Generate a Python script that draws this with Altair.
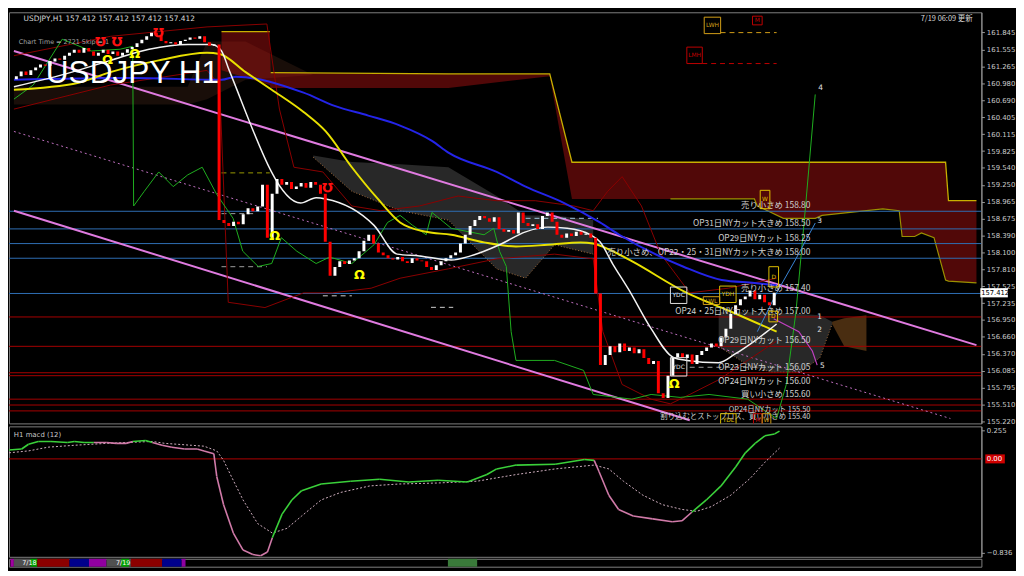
import altair as alt
import pandas as pd

# ---------------- data ----------------
# hourly closes, one per bar (bar index 0..157)
closes = [
    161.10, 161.18, 161.12, 161.20, 161.25, 161.30, 161.28, 161.35, 161.40, 161.38, 161.45, 161.50,
    161.55, 161.50, 161.58, 161.52, 161.45, 161.50, 161.55, 161.48,
    161.52, 161.45, 161.50, 161.56, 161.60,
    161.66, 161.72, 161.78, 161.84, 161.80,
    161.70, 161.66, 161.68, 161.64, 161.70,
    161.72, 161.76, 161.74, 161.78,
    161.68, 161.62, 161.64,
    158.65,
    158.60, 158.55, 158.62, 158.58,
    158.75, 158.85, 158.80, 158.88,
    159.25, 158.35, 159.10, 159.35,
    159.25, 159.30, 159.18, 159.22, 159.28, 159.20, 159.30,
    159.25, 159.10, 158.28, 157.70,
    157.85, 157.95, 157.90, 157.96,
    158.00, 158.12, 158.30, 158.40,
    158.25, 158.10, 158.05, 158.00, 157.98, 158.02, 157.95, 157.92, 158.00, 157.96,
    157.95, 157.85, 157.80, 157.88,
    157.95, 158.00, 158.05, 158.10,
    158.25, 158.40, 158.55,
    158.65, 158.72, 158.68, 158.62, 158.70,
    158.50, 158.45, 158.48, 158.42,
    158.78, 158.60, 158.55, 158.58, 158.50,
    158.72, 158.78, 158.62,
    158.40, 158.35, 158.42, 158.38, 158.45, 158.40, 158.42, 158.35,
    157.40, 156.18,
    156.35, 156.50, 156.40, 156.55, 156.42, 156.48, 156.38, 156.45,
    156.30, 156.20, 156.25, 155.70, 155.62, 156.00,
    156.32, 156.38, 156.30, 156.36, 156.20, 156.35,
    156.42, 156.48, 156.55, 156.50, 156.65, 156.80, 157.05, 157.20,
    157.30, 157.35, 157.45, 157.30, 157.38, 157.25, 157.20, 157.412,
]
first_open = 161.05

white_bar = [0, 12, 20, 28, 36, 41, 43, 44.6, 59.4, 62.6, 64.6, 74.6, 79.4, 84, 90.6, 94.6, 100.6, 106,
             110.6, 114.6, 119.4, 121.4, 124, 127.4, 132, 136.6, 139.4, 146, 149.4, 153.4, 156, 158]
white_price = [160.92, 161.17, 161.37, 161.56, 161.64, 161.64, 161.53, 161.20, 158.94, 159.03, 159.01,
               158.56, 158.07, 158.04, 157.97, 158.04, 158.23, 158.45, 158.53, 158.51, 158.40, 158.28,
               157.91, 157.46, 156.80, 156.31, 156.26, 156.22, 156.37, 156.59, 156.75, 156.88]

yellow_bar = [0, 13.4, 20, 30, 40, 42.6, 48, 53.4, 60, 64.6, 70, 75.4, 80, 85.4, 90.6, 97.4, 104, 110.6,
              117.4, 120, 124, 128, 139.4, 148, 158]
yellow_price = [160.87, 160.99, 161.17, 161.37, 161.50, 161.48, 161.17, 160.87, 160.49, 160.16, 159.55,
                159.01, 158.61, 158.45, 158.40, 158.27, 158.20, 158.23, 158.27, 158.25, 158.12, 157.95,
                157.41, 157.11, 156.75]

blue_bar = [0, 24, 43, 46, 60, 66.6, 73.4, 80, 86.6, 90, 100, 106, 114, 121.4, 125.4, 138.6, 146.6, 153.4, 158]
blue_price = [161.04, 161.07, 161.04, 161.09, 160.82, 160.59, 160.43, 160.26, 160.00, 159.80, 159.47,
              159.22, 158.94, 158.61, 158.40, 157.86, 157.63, 157.58, 157.54]

bb_low_bar = [0, 20, 40, 42.6, 44.4, 52, 60, 66, 74, 80, 90, 100, 112, 120, 122, 126, 132, 136, 140, 146, 152, 158]
bb_low_price = [160.54, 160.95, 161.20, 160.95, 157.25, 157.16, 157.41, 157.41, 157.49, 157.66, 157.82,
                157.99, 158.07, 157.99, 156.75, 155.85, 155.60, 155.52, 155.68, 155.93, 156.26, 156.59]
bb_up_bar = [0, 20, 40, 52.4, 55, 58, 64, 70, 76, 84, 92, 100, 108, 116, 120, 123, 126, 130, 134, 140, 148, 158]
bb_up_price = [161.45, 161.78, 161.94, 161.99, 160.54, 159.55, 159.47, 158.89, 158.81, 158.89, 159.06,
               158.98, 158.98, 158.89, 158.81, 159.14, 159.39, 158.89, 158.07, 157.41, 157.49, 157.66]

green_bar = [0, 4, 10, 16, 22, 24.6, 24.8, 27, 30, 33, 36, 39, 42, 45.4, 47.4, 50.6, 53.4, 55.4, 58.6, 62.6,
             65.4, 70, 74.6, 77.4, 80, 82.6, 85.4, 86.6, 90.6, 97.4, 99.4, 100.6, 102, 103, 104, 112, 118,
             120, 128, 132, 138, 144, 152, 158, 160, 162, 164, 166]
green_price = [160.71, 160.95, 161.73, 161.53, 161.56, 161.61, 158.89, 159.14, 159.47, 159.22, 159.42,
               159.55, 159.09, 158.68, 158.12, 157.86, 157.91, 158.35, 158.12, 157.91, 158.02, 157.91,
               158.23, 158.61, 158.73, 158.56, 158.40, 158.78, 158.51, 158.40, 158.51, 158.12, 157.86,
               156.75, 156.26, 156.26, 156.09, 155.68, 155.60, 155.68, 155.63, 155.68, 155.60, 155.27,
               155.85, 157.08, 158.89, 160.79]

fc3_bar = [154, 158, 162, 166]
fc3_price = [156.75, 157.41, 157.99, 158.60]
fc5_bar = [157.4, 162.6, 165.4, 166.4]
fc5_price = [156.97, 156.75, 156.42, 156.18]

# Ichimoku clouds
red_cloud_bar = [43, 53, 53.2, 90, 111, 115.6, 136, 153.4, 154, 159.4, 166, 167.4, 180, 183.4, 184, 186.6,
                 188, 190.6, 193, 193.6, 199.4]
red_cloud_top = [161.86, 161.86, 161.16, 161.14, 161.14] + [159.635] * 14 + [158.98, 158.98]
red_cloud_bot = [161.20, 160.95, 160.90, 160.90, 161.10, 159.01, 159.01, 159.01, 158.89, 158.68, 158.68,
                 158.73, 158.84, 158.81, 158.37, 158.37, 158.43, 158.35, 157.63, 157.61, 157.58]
grey1_bar = [62, 70, 80, 90, 100, 106, 112, 120]
grey1_top = [159.75, 159.64, 159.60, 159.55, 159.06, 158.73, 158.73, 158.65]
grey1_bot = [159.72, 159.14, 158.81, 158.65, 157.82, 157.66, 158.23, 158.07]
grey2_bar = [146, 152, 157, 163, 167, 169.5]
grey2_top = [157.08, 157.08, 157.07, 157.05, 157.03, 156.92]
grey2_bot = [156.50, 156.18, 156.06, 156.06, 156.31, 156.88]
orange_bar = [169.5, 172, 176.6]
orange_top = [156.92, 156.98, 157.03]
orange_bot = [156.88, 156.50, 156.42]
brown_bar = [0, 36, 40, 48, 62]
brown_top = [160.92, 160.92, 161.69, 161.69, 161.12]
brown_bot = [160.62, 160.62, 160.71, 161.04, 161.12]

# trend channel (two end points each)
chan_upper = ([0, 199.4], [161.53, 156.52])
chan_lower = ([0, 140], [158.81, 155.24])
chan_mid = ([0, 194], [160.16, 155.27])

# horizontal levels with their notes
level_price = [158.80, 158.50, 158.25, 158.00, 157.40, 157.00, 156.50, 156.05, 156.00, 155.60, 155.50, 155.40]
level_kind = ["blue"] * 5 + ["red"] * 7
level_text = [
    "売り小さめ 158.80",
    "OP31日NYカット大きめ 158.50",
    "OP29日NYカット 158.25",
    "売り小さめ、OP22・25・31日NYカット大きめ 158.00",
    "売り小さめ 157.40",
    "OP24・25日NYカット大きめ 157.00",
    "OP29日NYカット 156.50",
    "OP23日NYカット 156.05",
    "OP24日NYカット 156.00",
    "買い小さめ 155.60",
    "OP24日NYカット 155.50",
    "割り込むとストップロス、買い小さめ 155.40",
]
# note placed above (1) or below (0) its line, and its vertical nudge in px
level_above = [1, 1, 1, 1, 1, 1, 1, 1, 0, 1, 0, 0]
level_nudge = [-1, -1, -1, -1, -1, -1, -1, -1, 1, 0, 1, 2.5]

dash_b0 = [146.4, 142.6, 43, 43, 140, 64, 86.4, 106, 43]
dash_b1 = [158, 158, 50, 52.4, 158, 70, 91, 121, 53]
dash_p = [161.843, 161.316, 158.76, 157.856, 156.143, 157.36, 157.164, 158.68, 159.454]
dash_c = ["#d4a017", "#c00000", "#a0a0a0", "#a0a0a0", "#a0a0a0", "#d0d0d0", "#d0d0d0", "#a0c8e0", "#9a9a00"]

box_label = ["LWH", "M", "LMH", "YDC", "YDH", "LWL", "D", "W", "D", "YDC", "YDL", "M", "W"]
box_b0 = [143, 153, 139.4, 136, 146.2, 142.8, 156.4, 154.6, 156.4, 136, 146.4, 153.2, 155]
box_b1 = [146.4, 155, 142.6, 139.4, 149.6, 146.2, 158.4, 156.6, 158.2, 139.4, 149.6, 155, 156.8]
box_top = [162.106, 162.123, 161.596, 157.510, 157.526, 157.345, 157.856, 159.157, 157.098, 156.307, 155.352, 155.352, 155.352]
box_bot = [161.826, 161.975, 161.316, 157.230, 157.246, 157.213, 157.510, 158.844, 156.917, 155.994, 155.138, 155.138, 155.138]
box_col = ["#d4a017", "#c00000", "#c00000", "#e0e0e0", "#e0c000", "#d4a017", "#e0c000", "#e0c000", "#e0c000",
           "#e0e0e0", "#e0c000", "#c00000", "#d4a017"]

sig_y_bar = [19.4, 25, 54, 71.6, 136.8]
sig_y_price = [161.37, 161.48, 158.37, 157.71, 155.85]
sig_r_bar = [18, 21.4, 30, 65]
sig_r_price = [161.69, 161.69, 161.83, 159.19]

fc_label = ["4", "3", "1", "2", "5"]
fc_label_bar = [166.6, 166.4, 166.4, 166.4, 167]
fc_label_price = [160.90, 158.63, 157.00, 156.77, 156.16]

price_ticks = [161.845, 161.555, 161.265, 160.980, 160.690, 160.405, 160.115, 159.825, 159.540, 159.250,
               158.965, 158.675, 158.390, 158.100, 157.810, 157.525, 157.235, 156.950, 156.660, 156.370,
               156.085, 155.795, 155.510, 155.220]
last_price = 157.412

# MACD panel
macd_bar = [0, 2.6, 4, 6, 8.6, 12, 13.4, 15.4, 17.4, 20, 22, 24, 25.4, 28, 29.4, 31.4, 33.4, 36, 38.6, 40,
            42, 42.6, 44, 46, 48, 50, 51.6, 53, 54, 56, 58, 60, 64, 70, 76, 82, 88, 94, 98, 100, 104, 112,
            118, 120, 121, 123, 125, 128, 132, 136, 138, 140, 143, 146, 149, 151, 153, 155, 157, 158]
macd_val = [0.079, 0.088, 0.130, 0.155, 0.155, 0.146, 0.155, 0.146, 0.146, 0.146, 0.138, 0.138, 0.155, 0.163,
            0.146, 0.121, 0.104, 0.088, 0.088, 0.071, 0.046, -0.156, -0.407, -0.659, -0.810, -0.850, -0.860,
            -0.827, -0.701, -0.491, -0.365, -0.282, -0.223, -0.198, -0.181, -0.206, -0.189, -0.206, -0.139,
            -0.089, -0.055, -0.047, -0.005, -0.013, -0.114, -0.323, -0.449, -0.508, -0.533, -0.558, -0.550,
            -0.474, -0.365, -0.240, -0.072, 0.054, 0.138, 0.205, 0.222, 0.247]
macd_green_ranges = [(0, 17), (25, 29.4), (55, 120), (140, 158.1)]
sig_bar = [0, 4, 8, 13.4, 20, 29.4, 32, 37.4, 40, 42.6, 44, 45.4, 48, 51, 54, 57, 60, 64, 68, 74, 80, 88, 96,
           104, 112, 120, 123, 126, 130, 134, 138, 141, 144, 148, 152, 155, 158]
sig_val = [0.054, 0.071, 0.104, 0.121, 0.138, 0.155, 0.138, 0.121, 0.113, 0.071, -0.013, -0.139, -0.365,
           -0.575, -0.659, -0.617, -0.508, -0.365, -0.298, -0.240, -0.223, -0.214, -0.198, -0.139, -0.089,
           -0.055, -0.089, -0.198, -0.323, -0.407, -0.449, -0.466, -0.424, -0.323, -0.172, -0.030, 0.096]
macd_ticks = [0.255, -0.836]

# session strip at the bottom
strip_b0 = [0.3, 1, 4.4, 5.8, 12.4, 16.4, 20, 23, 25, 31.4, 35.4, 90]
strip_b1 = [1, 4.4, 5.8, 12.4, 16.4, 20, 25, 24.6, 31.4, 35.4, 36.2, 96]
strip_c = ["#a000a0", "#505050", "#00a000", "#8b0000", "#00008b", "#9000a0", "#505050", "#00a000",
           "#8b0000", "#00008b", "#9000a0", "#3a7a3a"]
strip_text = ["7/18", "7/19"]
strip_text_bar = [4.2, 23.4]

# ---------------- chart ----------------
W = 984
H_MAIN = 416
H_MACD = 132
H_STRIP = 8
XMAX = 199.4
PMAX, PMIN = 162.189, 155.187

XS = alt.Scale(domain=[0, XMAX], nice=False, zero=False)
YS = alt.Scale(domain=[PMIN, PMAX], nice=False, zero=False)
MS = alt.Scale(domain=[-0.87, 0.289], nice=False, zero=False)

AX_COMMON = dict(orient="right", labelFontSize=7, labelColor="#c8c8c8", labelFont="DejaVu Sans",
                 tickColor="#9a9a9a", tickSize=3, domainColor="#9a9a9a", grid=False, title=None,
                 labelPadding=2)
YAX = alt.Axis(values=price_ticks, format=".3f", **AX_COMMON)
MAX_ = alt.Axis(values=macd_ticks, format=".3f", **AX_COMMON)


def X(f):
    return alt.X(f, type="quantitative", scale=XS, axis=None)


def Y(f):
    return alt.Y(f, type="quantitative", scale=YS, axis=YAX)


def MY(f):
    return alt.Y(f, type="quantitative", scale=MS, axis=MAX_)


def series(bars, vals):
    return pd.DataFrame({"bar": bars, "p": vals, "i": list(range(len(bars)))})


def line(bars, vals, color, width=1.0, dash=None, interp="linear"):
    kw = dict(color=color, strokeWidth=width, clip=True, interpolate=interp)
    if dash:
        kw["strokeDash"] = dash
    return alt.Chart(series(bars, vals)).mark_line(**kw).encode(x=X("bar"), y=Y("p"), order="i:Q")


def cloud(bars, top, bot, color, opacity):
    df = pd.DataFrame({"bar": bars, "p": top, "p2": bot})
    return alt.Chart(df).mark_area(color=color, opacity=opacity, clip=True).encode(
        x=X("bar"), y=Y("p"), y2=alt.Y2("p2"))


layers = []
# clouds
layers.append(cloud(brown_bar, brown_top, brown_bot, "#8a5030", 0.18))
layers.append(cloud(red_cloud_bar, red_cloud_top, red_cloud_bot, "#c01414", 0.42))
layers.append(cloud(grey1_bar, grey1_top, grey1_bot, "#c8c8c8", 0.2))
layers.append(cloud(grey2_bar, grey2_top, grey2_bot, "#c8c8c8", 0.2))
layers.append(cloud(orange_bar, orange_top, orange_bot, "#d08030", 0.35))
layers.append(line(red_cloud_bar[2:], red_cloud_top[2:], "#c8b000", 1.3))
layers.append(line(red_cloud_bar[:2], red_cloud_top[:2], "#c8b000", 1.3))
layers.append(line(red_cloud_bar[6:], red_cloud_bot[6:], "#9a9000", 1.2))
layers.append(line(grey1_bar, grey1_bot, "#a06a3a", 1, [1, 2]))
layers.append(line(grey2_bar, grey2_bot, "#a06a3a", 1, [1, 2]))

# horizontal levels
lv = pd.DataFrame({"p": level_price, "kind": level_kind, "t": level_text,
                   "bar": [165] * len(level_price), "above": level_above, "nudge": level_nudge})
layers.append(alt.Chart(lv).mark_rule(strokeWidth=1, clip=True).encode(
    y=Y("p"),
    color=alt.Color("kind:N", scale=alt.Scale(domain=["blue", "red"], range=["#2f6fb5", "#a80000"]), legend=None)))

# channel
layers.append(line(*chan_upper, "#e07be0", 2))
layers.append(line(*chan_lower, "#e07be0", 2))
layers.append(line(*chan_mid, "#c070c0", 1, [2, 3]))

# short dashed lines
dd = pd.DataFrame({"b0": dash_b0, "b1": dash_b1, "p": dash_p, "c": dash_c})
layers.append(alt.Chart(dd).mark_rule(strokeDash=[5, 4], strokeWidth=1, clip=True).encode(
    x=X("b0"), x2=alt.X2("b1"), y=Y("p"), color=alt.Color("c:N", scale=None)))

# bands / other lines
layers.append(line(bb_low_bar, bb_low_price, "#8b0000", 1))
layers.append(line(bb_up_bar, bb_up_price, "#8b0000", 1))
layers.append(line(green_bar, green_price, "#20b020", 1))
layers.append(line(blue_bar, blue_price, "#2424e8", 2, interp="monotone"))
layers.append(line(yellow_bar, yellow_price, "#e8e000", 2, interp="monotone"))
layers.append(line(white_bar, white_price, "#f2f2f2", 1.5, interp="monotone"))
layers.append(line(fc3_bar, fc3_price, "#3a86d8", 1))
layers.append(line(fc5_bar, fc5_price, "#c040c0", 1.2))

# candles
opens = [first_open] + closes[:-1]
cd = pd.DataFrame({"bar": [i + 0.5 for i in range(len(closes))], "o": opens, "c": closes})
cd["col"] = ["#ffffff" if c >= o else "#ff0000" for o, c in zip(opens, closes)]
layers.append(alt.Chart(cd).mark_bar(size=3, clip=True).encode(
    x=X("bar"), y=Y("o"), y2=alt.Y2("c"), color=alt.Color("col:N", scale=None)))

# level notes (one text layer per placement)
note_style = dict(align="right", font="Noto Sans CJK JP", color="#d0d0d0")
for _, r in lv.iterrows():
    size = 8.5 if r["p"] > 155.55 else 7.5
    if r["p"] > 155.65:
        size = 8.5
    layers.append(alt.Chart(lv[lv["t"] == r["t"]]).mark_text(
        baseline="bottom" if r["above"] == 1 else "top", dy=float(r["nudge"]), fontSize=size, **note_style
    ).encode(x=X("bar"), y=Y("p"), text="t:N"))

# boxes
bx = pd.DataFrame({"t": box_label, "b0": box_b0, "b1": box_b1, "p0": box_top, "p1": box_bot, "c": box_col})
bx["bm"] = (bx["b0"] + bx["b1"]) / 2
bx["pm"] = (bx["p0"] + bx["p1"]) / 2
layers.append(alt.Chart(bx).mark_rect(filled=False, strokeWidth=1, clip=True).encode(
    x=X("b0"), x2=alt.X2("b1"), y=Y("p0"), y2=alt.Y2("p1"), stroke=alt.Color("c:N", scale=None)))
layers.append(alt.Chart(bx).mark_text(fontSize=6, font="DejaVu Sans", baseline="middle", clip=True).encode(
    x=X("bm"), y=Y("pm"), text="t:N", color=alt.Color("c:N", scale=None)))

# signal glyphs
layers.append(alt.Chart(pd.DataFrame({"bar": sig_y_bar, "p": sig_y_price})).mark_text(
    text="Ω", fontSize=13, fontWeight="bold", color="#ffff00", font="DejaVu Sans").encode(x=X("bar"), y=Y("p")))
layers.append(alt.Chart(pd.DataFrame({"bar": sig_r_bar, "p": sig_r_price})).mark_text(
    text="℧", fontSize=13, fontWeight="bold", color="#ff1010", font="DejaVu Sans").encode(x=X("bar"), y=Y("p")))

# forecast labels
layers.append(alt.Chart(pd.DataFrame({"bar": fc_label_bar, "p": fc_label_price, "t": fc_label})).mark_text(
    fontSize=7.5, color="#e0e0e0", font="DejaVu Sans", align="left").encode(x=X("bar"), y=Y("p"), text="t:N"))

# titles
tx = pd.DataFrame({
    "bar": [2, 1, 198.6],
    "p": [162.14, 161.64, 162.14],
    "t": ["USDJPY,H1  157.412 157.412 157.412 157.412", "Chart Time = 2721 Skip = 1", "7/19 06:09 更新"],
})
layers.append(alt.Chart(tx.iloc[[0]]).mark_text(align="left", baseline="top", fontSize=7.5,
                                                font="DejaVu Sans", color="#d8d8d8").encode(
    x=X("bar"), y=Y("p"), text="t:N"))
layers.append(alt.Chart(tx.iloc[[1]]).mark_text(align="left", baseline="bottom", fontSize=6.5,
                                                font="DejaVu Sans", color="#a0a0a0").encode(
    x=X("bar"), y=Y("p"), text="t:N"))
layers.append(alt.Chart(tx.iloc[[2]]).mark_text(align="right", baseline="top", fontSize=7.5,
                                                font="Noto Sans CJK JP", color="#d8d8d8").encode(
    x=X("bar"), y=Y("p"), text="t:N"))
big = pd.DataFrame({"bar": [6.6], "p": [160.985], "t": ["USDJPY H1"]})
layers.append(alt.Chart(big).mark_text(align="left", baseline="alphabetic", fontSize=32,
                                       font="Liberation Sans", color="#ffffff").encode(
    x=X("bar"), y=Y("p"), text="t:N"))

# current price tag on the axis
cp = pd.DataFrame({"b0": [200.2], "b1": [205.9], "bt": [200.4], "p0": [last_price + 0.078],
                   "p1": [last_price - 0.078], "p": [last_price], "t": [f"{last_price:.3f}"]})
layers.append(alt.Chart(cp).mark_rect(color="#ffffff", clip=False).encode(
    x=X("b0"), x2=alt.X2("b1"), y=Y("p0"), y2=alt.Y2("p1")))
layers.append(alt.Chart(cp).mark_text(align="left", baseline="middle", fontSize=6.8, color="#000000",
                                      font="DejaVu Sans").encode(x=X("bt"), y=Y("p"), text="t:N"))

main = alt.layer(*layers).properties(width=W, height=H_MAIN)

# ---------------- MACD panel ----------------
seg_rows = []
for k in range(len(macd_bar) - 1):
    mid = (macd_bar[k] + macd_bar[k + 1]) / 2
    col = "#3ad03a" if any(a <= mid < b for a, b in macd_green_ranges) else "#d07aa8"
    seg_rows.append({"seg": k, "bar": macd_bar[k], "v": macd_val[k], "c": col, "i": 0})
    seg_rows.append({"seg": k, "bar": macd_bar[k + 1], "v": macd_val[k + 1], "c": col, "i": 1})
seg_df = pd.DataFrame(seg_rows)

m_layers = [
    alt.Chart(pd.DataFrame({"v": [0.0]})).mark_rule(color="#b00000", strokeWidth=1).encode(y=MY("v")),
    alt.Chart(pd.DataFrame({"bar": sig_bar, "v": sig_val})).mark_line(
        color="#d0b0c0", strokeWidth=1, strokeDash=[2, 2], clip=True).encode(x=X("bar"), y=MY("v")),
    alt.Chart(seg_df).mark_line(strokeWidth=1.6, clip=True).encode(
        x=X("bar"), y=MY("v"), detail="seg:N", order="i:Q", color=alt.Color("c:N", scale=None)),
    alt.Chart(pd.DataFrame({"bar": [1], "v": [0.25], "t": ["H1  macd (12)"]})).mark_text(
        align="left", baseline="top", fontSize=7, color="#c8c8c8", font="DejaVu Sans").encode(
        x=X("bar"), y=MY("v"), text="t:N"),
    alt.Chart(pd.DataFrame({"b0": [200.2], "b1": [204.2], "v0": [0.04], "v1": [-0.04]})).mark_rect(
        color="#d00000", clip=False).encode(x=X("b0"), x2=alt.X2("b1"), y=MY("v0"), y2=alt.Y2("v1")),
    alt.Chart(pd.DataFrame({"bar": [200.5], "v": [0.0], "t": ["0.00"]})).mark_text(
        align="left", baseline="middle", fontSize=7, color="#ffffff", font="DejaVu Sans").encode(
        x=X("bar"), y=MY("v"), text="t:N"),
]
macd = alt.layer(*m_layers).properties(width=W, height=H_MACD)

# ---------------- session strip ----------------
sd = pd.DataFrame({"b0": strip_b0, "b1": strip_b1, "c": strip_c})
st = pd.DataFrame({"bar": strip_text_bar, "t": strip_text})
strip = alt.layer(
    alt.Chart(sd).mark_rect().encode(x=X("b0"), x2=alt.X2("b1"), y=alt.value(0), y2=alt.value(H_STRIP),
                                     color=alt.Color("c:N", scale=None)),
    alt.Chart(st).mark_text(fontSize=6.5, color="#ffffff", font="DejaVu Sans", baseline="middle").encode(
        x=X("bar"), y=alt.value(H_STRIP / 2), text="t:N"),
).properties(width=W, height=H_STRIP)

chart = alt.vconcat(main, macd, strip, spacing=0).properties(
    padding=0, background="#000000"
).configure_view(stroke="#808080", strokeWidth=1)

chart.save("out.html", embed_options={"renderer": "svg", "actions": False})
